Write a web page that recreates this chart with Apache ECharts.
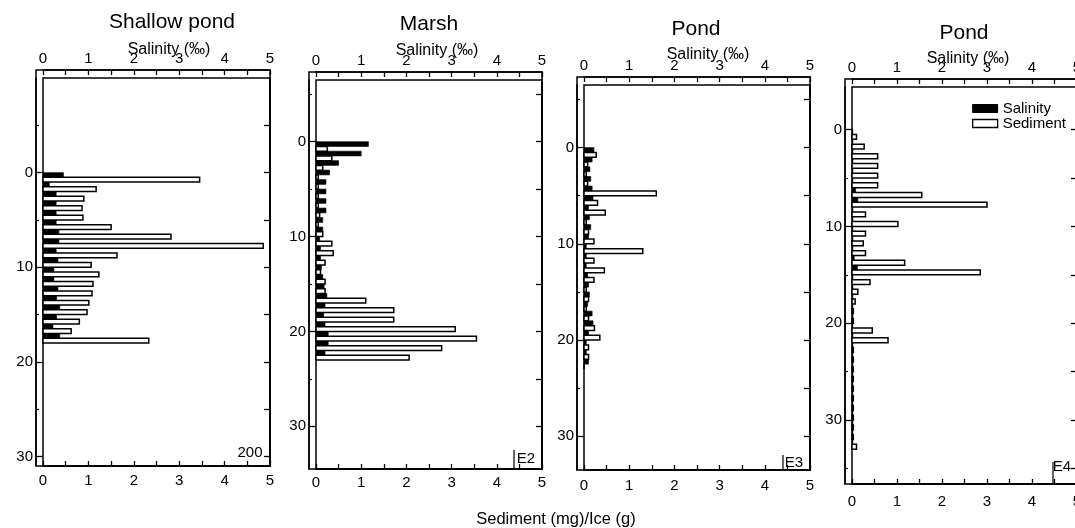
<!DOCTYPE html>
<html><head><meta charset="utf-8">
<script src="https://cdn.jsdelivr.net/npm/echarts@6/dist/echarts.min.js"></script>
<style>html,body{margin:0;padding:0;background:#fff}#c{width:1075px;height:528px}</style>
</head><body><div id="c"></div>
<script>
// ---------- data ----------
const panelTitles = ['Shallow pond', 'Marsh', 'Pond', 'Pond'];
const siteLabels = ['200', 'E2', 'E3', 'E4'];
const salinityAxisName = 'Salinity (‰)';
const sedimentAxisName = 'Sediment (mg)/Ice (g)';
const xTickLabels = [0, 1, 2, 3, 4, 5];
const depthTickLabels = [0, 10, 20, 30];
const depthMinorTicks = [-5, 5, 15, 25, 35];
const depthRightTicks = [-5, 0, 5, 10, 15, 20, 25, 30, 35];

const shallowDepth = [0, 1, 2, 3, 4, 5, 6, 7, 8, 9, 10, 11, 12, 13, 14, 15, 16, 17];
const shallowSalinity = [0.45, 0.14, 0.29, 0.29, 0.29, 0.29, 0.35, 0.35, 0.29, 0.33, 0.24, 0.24, 0.33, 0.3, 0.37, 0.3, 0.22, 0.37];
const shallowSediment = [3.45, 1.17, 0.9, 0.86, 0.88, 1.5, 2.82, 4.85, 1.63, 1.06, 1.23, 1.1, 1.08, 1.01, 0.97, 0.8, 0.62, 2.33];

const marshDepth = [0, 1, 2, 3, 4, 5, 6, 7, 8, 9, 10, 11, 12, 13, 14, 15, 16, 17, 18, 19, 20, 21, 22];
const marshSalinity = [1.16, 1.0, 0.5, 0.3, 0.22, 0.22, 0.22, 0.22, 0.15, 0.15, 0.08, 0.1, 0.1, 0.12, 0.15, 0.18, 0.24, 0.2, 0.17, 0.2, 0.27, 0.27, 0.2];
const marshSediment = [0.25, 0.35, 0.15, 0.05, 0.05, 0.05, 0.05, 0.08, 0.05, 0.15, 0.35, 0.38, 0.2, 0.1, 0.2, 0.2, 1.1, 1.72, 1.72, 3.08, 3.55, 2.78, 2.06];

const pondDepth = [0, 1, 2, 3, 4, 5, 6, 7, 8, 9, 10, 11, 12, 13, 14, 15, 16, 17, 18, 19, 20, 21, 22];
const pondSalinity = [0.22, 0.18, 0.13, 0.15, 0.18, 0.2, 0.1, 0.12, 0.15, 0.1, 0.05, 0.05, 0.05, 0.08, 0.1, 0.12, 0.08, 0.18, 0.2, 0.1, 0.05, 0.05, 0.1];
const pondSediment = [0.27, 0.08, 0.05, 0.08, 1.6, 0.3, 0.47, 0.05, 0.1, 0.22, 1.3, 0.22, 0.45, 0.22, 0.05, 0.1, 0.05, 0.1, 0.23, 0.35, 0.1, 0.1, 0];

const pond4Depth = [0, 1, 2, 3, 4, 5, 6, 7, 8, 9, 10, 11, 12, 13, 14, 15, 16, 17, 18, 19, 20, 21, 22, 23, 24, 25, 26, 27, 28, 29, 30, 31, 32];
const pond4Salinity = [0.02, 0.02, 0.02, 0.02, 0.02, 0.02, 0.08, 0.13, 0.02, 0.02, 0.02, 0.02, 0.02, 0.05, 0.12, 0.02, 0.02, 0.02, 0.02, 0.02, 0.02, 0.02, 0.02, 0.02, 0.02, 0.02, 0.02, 0.02, 0.02, 0.02, 0.02, 0.02, 0.02];
const pond4Sediment = [0.1, 0.27, 0.57, 0.57, 0.57, 0.57, 1.55, 3.0, 0.3, 1.02, 0.3, 0.25, 0.3, 1.17, 2.85, 0.4, 0.13, 0.07, 0.03, 0.03, 0.45, 0.8, 0.03, 0.03, 0.03, 0.03, 0.03, 0.03, 0.03, 0.03, 0.03, 0.03, 0.1];

// ---------- layout ----------
const FONT = '"Liberation Sans", Arial, Helvetica, sans-serif';
const layout = [
  {left: 43, top: 78, width: 227, height: 388, yMin: -10, yMax: 31, bm: 7, title: [172, 22], sal: [169, 50], site: [250, 453], bracket: null},
  {left: 316, top: 80, width: 226, height: 389, yMin: -6.5, yMax: 34.5, bm: 6, title: [429, 24], sal: [437, 51], site: [526, 459], bracket: [514, 450, 469]},
  {left: 584, top: 85, width: 226, height: 385, yMin: -6.5, yMax: 33.5, bm: 8, title: [696, 29], sal: [708, 55], site: [794, 463], bracket: [783, 455, 470]},
  {left: 852, top: 87, width: 225, height: 397, yMin: -4.4, yMax: 36.6, bm: 10, title: [964, 33], sal: [968, 59], site: [1062, 467], bracket: [1053, 462, 484]}
];

const panels = [
  {title: panelTitles[0], site: siteLabels[0], depth: shallowDepth, sal: shallowSalinity, sed: shallowSediment},
  {title: panelTitles[1], site: siteLabels[1], depth: marshDepth, sal: marshSalinity, sed: marshSediment},
  {title: panelTitles[2], site: siteLabels[2], depth: pondDepth, sal: pondSalinity, sed: pondSediment},
  {title: panelTitles[3], site: siteLabels[3], depth: pond4Depth, sal: pond4Salinity, sed: pond4Sediment}
];

const lineStyle = {color: '#000', width: 1.5};
const labelStyle = {color: '#000', fontFamily: FONT, fontSize: 15};

function barRenderer(shift, solid) {
  return function (params, api) {
    const v = api.value(0), d = api.value(1);
    const a = api.coord([0, d + shift]);
    const b = api.coord([v, d + shift + 0.5]);
    return {
      type: 'rect',
      shape: {x: a[0], y: a[1], width: b[0] - a[0], height: b[1] - a[1]},
      style: solid ? {fill: '#000', stroke: '#000', lineWidth: 0.6}
                   : {fill: '#fff', stroke: '#000', lineWidth: 1.5}
    };
  };
}

const grid = [], xAxis = [], yAxis = [], series = [], graphic = [];

panels.forEach((p, i) => {
  const L = layout[i];
  grid.push({left: L.left, top: L.top, width: L.width, height: L.height, show: true,
    borderColor: '#000', borderWidth: 1.5, backgroundColor: 'transparent', outerBoundsMode: 'none', containLabel: false});
  // bottom (sediment)
  xAxis.push({gridIndex: i, type: 'value', position: 'bottom', min: 0, max: 5, interval: 0.5,
    axisLine: {show: true, onZero: false, lineStyle},
    axisTick: {show: true, inside: true, length: 5, lineStyle: {color: '#000', width: 1.3}},
    axisLabel: Object.assign({show: true, margin: L.bm, customValues: xTickLabels}, labelStyle),
    splitLine: {show: false}});
  // top (salinity)
  xAxis.push({gridIndex: i, type: 'value', position: 'top', offset: 8, min: 0, max: 5, interval: 0.5,
    axisLine: {show: true, onZero: false, lineStyle},
    axisTick: {show: true, inside: true, length: 5, lineStyle: {color: '#000', width: 1.3}},
    axisLabel: Object.assign({show: true, margin: 4, customValues: xTickLabels}, labelStyle),
    splitLine: {show: false}});
  const inRange = arr => arr.filter(v => v > L.yMin && v < L.yMax);
  // left depth axis with labels
  yAxis.push({gridIndex: i, type: 'value', inverse: true, min: L.yMin, max: L.yMax, position: 'left', offset: 7,
    axisLine: {show: true, onZero: false, lineStyle},
    axisTick: {show: true, inside: true, length: 7, customValues: inRange(depthTickLabels), lineStyle: {color: '#000', width: 1.3}},
    axisLabel: Object.assign({show: true, margin: 3, customValues: inRange(depthTickLabels)}, labelStyle),
    splitLine: {show: false}});
  // left minor ticks
  yAxis.push({gridIndex: i, type: 'value', inverse: true, min: L.yMin, max: L.yMax, position: 'left', offset: 7,
    axisLine: {show: false, onZero: false},
    axisTick: {show: true, inside: true, length: 3, customValues: inRange(depthMinorTicks), lineStyle: {color: '#000', width: 1.2}},
    axisLabel: {show: false}, splitLine: {show: false}});
  // right ticks
  yAxis.push({gridIndex: i, type: 'value', inverse: true, min: L.yMin, max: L.yMax, position: 'right',
    axisLine: {show: true, onZero: false, lineStyle},
    axisTick: {show: true, inside: true, length: 6, customValues: inRange(depthRightTicks), lineStyle: {color: '#000', width: 1.3}},
    axisLabel: {show: false}, splitLine: {show: false}});

  series.push({type: 'custom', name: 'Salinity', xAxisIndex: 2 * i + 1, yAxisIndex: 3 * i,
    data: p.sal.map((v, k) => [v, p.depth[k]]), encode: {x: 0, y: 1},
    itemStyle: {color: '#000'}, renderItem: barRenderer(0, true), clip: false, silent: true});
  series.push({type: 'custom', name: 'Sediment', xAxisIndex: 2 * i, yAxisIndex: 3 * i,
    data: p.sed.map((v, k) => [v, p.depth[k]]), encode: {x: 0, y: 1},
    itemStyle: {color: '#fff', borderColor: '#000', borderWidth: 1.3}, renderItem: barRenderer(0.5, false), clip: false, silent: true});

  graphic.push({type: 'text', x: L.title[0], y: L.title[1], silent: true,
    style: {text: p.title, fill: '#000', fontFamily: FONT, fontSize: 21, align: 'center', verticalAlign: 'middle'}});
  graphic.push({type: 'text', x: L.sal[0], y: L.sal[1], silent: true,
    style: {text: salinityAxisName, fill: '#000', fontFamily: FONT, fontSize: 16, align: 'center', verticalAlign: 'middle'}});
  graphic.push({type: 'text', x: L.site[0], y: L.site[1], silent: true,
    style: {text: p.site, fill: '#000', fontFamily: FONT, fontSize: 15, align: 'center', verticalAlign: 'middle'}});
  if (L.bracket) {
    graphic.push({type: 'line', silent: true, shape: {x1: L.bracket[0], y1: L.bracket[1], x2: L.bracket[0], y2: L.bracket[2]},
      style: {stroke: '#000', lineWidth: 1.2}});
  }
});

// outer frames (strip round the top and left axes)
layout.forEach(L => grid.push({left: L.left - 7, top: L.top - 8, width: L.width + 7, height: L.height + 8, show: true,
  borderColor: '#000', borderWidth: 1.5, backgroundColor: 'transparent', outerBoundsMode: 'none', containLabel: false}));

graphic.push({type: 'text', x: 556, y: 519, silent: true,
  style: {text: sedimentAxisName, fill: '#000', fontFamily: FONT, fontSize: 16.5, align: 'center', verticalAlign: 'middle'}});

const chart = echarts.init(document.getElementById('c'), null, {renderer: 'canvas'});
chart.setOption({
  animation: false,
  backgroundColor: '#fff',
  grid, xAxis, yAxis, series, graphic,
  legend: {
    left: 972, top: 101, orient: 'vertical', itemWidth: 25, itemHeight: 8, itemGap: 0, padding: 0,
    selectedMode: false,
    textStyle: {fontFamily: FONT, fontSize: 15, color: '#000', lineHeight: 12},
    data: [
      {name: 'Salinity', icon: 'rect', itemStyle: {color: '#000', borderColor: '#000', borderWidth: 1}},
      {name: 'Sediment', icon: 'rect', itemStyle: {color: '#fff', borderColor: '#000', borderWidth: 1.3}}
    ]
  }
});
</script>
</body></html>
